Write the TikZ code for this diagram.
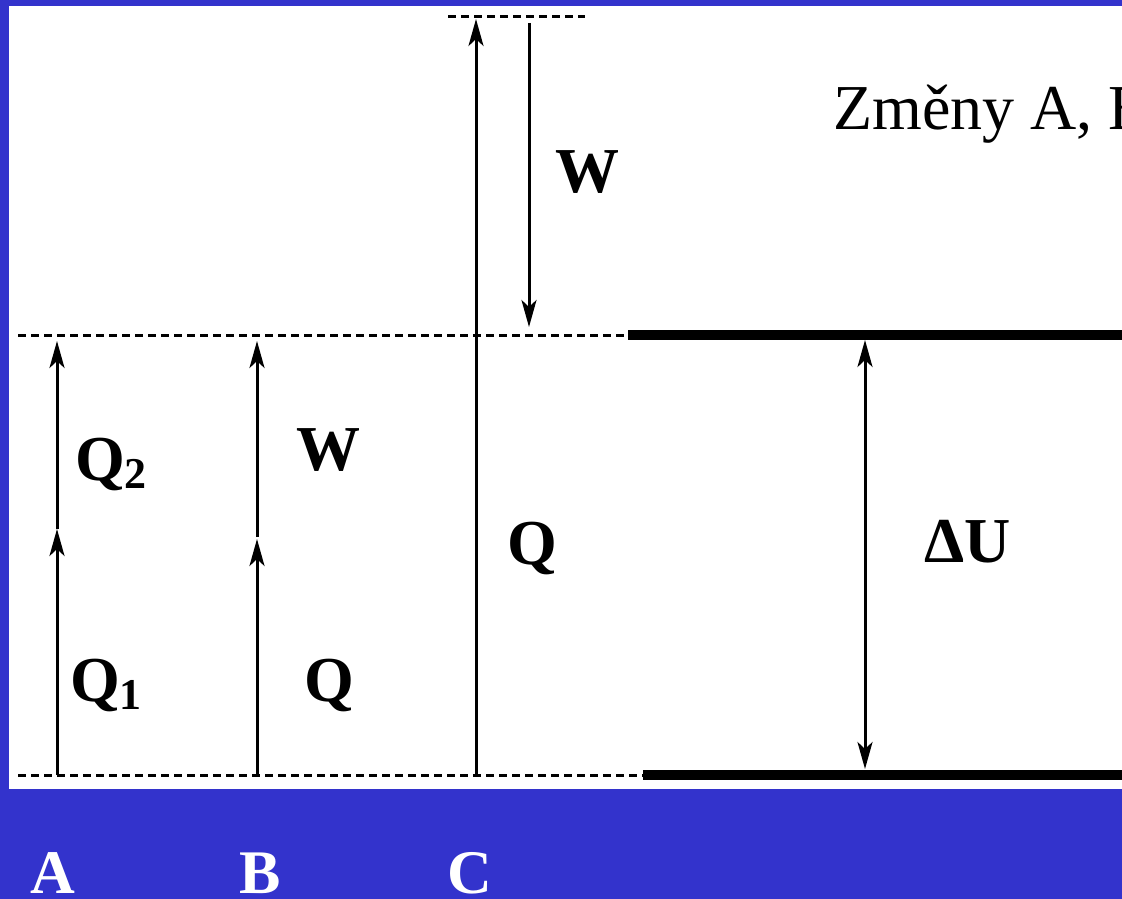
\documentclass[tikz,border=0pt]{standalone}
\usepackage{fontspec}
\setmainfont{Liberation Serif}
\usetikzlibrary{arrows.meta}
\definecolor{bgblue}{RGB}{51,51,204}
\begin{document}
\begin{tikzpicture}[x=1pt,y=-1pt,
  arr/.style={line width=3pt,-{Stealth[length=27pt,width=15pt,inset=7pt]}},
  darr/.style={line width=3pt,{Stealth[length=27pt,width=15pt,inset=7pt]}-{Stealth[length=27pt,width=15pt,inset=7pt]}},
  dline/.style={line width=3pt,dash pattern=on 8pt off 5pt},
  heavy/.style={line width=10pt},
  lbl/.style={font=\fontsize{64}{64}\selectfont\bfseries,anchor=base west,inner sep=0pt},
  foot/.style={font=\fontsize{62}{62}\selectfont\bfseries,text=white,anchor=base west,inner sep=0pt},
  title/.style={font=\fontsize{64}{64}\selectfont,anchor=base west,inner sep=0pt}
]
\useasboundingbox (0,0) rectangle (1122,899);
\fill[bgblue] (0,0) rectangle (1122,899);
\fill[white] (9,6) rectangle (1130,789);

% levels
\coordinate (t0) at (448,17);  \coordinate (t1) at (585,17);
\coordinate (m0) at (18,335);  \coordinate (m1) at (628,335); \coordinate (m2) at (1130,335);
\coordinate (b0) at (18,775);  \coordinate (b1) at (643,775); \coordinate (b2) at (1130,775);
\draw[dline] (t0) -- (t1);
\draw[dline] (m0) -- (m1);
\draw[dline] (b0) -- (b1);
\draw[heavy] (m1) -- (m2);
\draw[heavy] (b1) -- (b2);

% process A
\coordinate (a0) at (57,775); \coordinate (a1) at (57,529); \coordinate (a2) at (57,341);
\draw[arr] (a0) -- (a1);
\draw[arr] (a1) -- (a2);
% process B
\coordinate (p0) at (257,775); \coordinate (p1) at (257,539); \coordinate (p1b) at (257,537); \coordinate (p2) at (257,341);
\draw[arr] (p0) -- (p1);
\draw[arr] (p1b) -- (p2);
% process C
\coordinate (c0) at (476,775); \coordinate (c1) at (476,19);
\draw[arr] (c0) -- (c1);
\coordinate (w0) at (529,23); \coordinate (w1) at (529,327);
\draw[arr] (w0) -- (w1);
% Delta U
\coordinate (u0) at (865,340); \coordinate (u1) at (865,769);
\draw[darr] (u0) -- (u1);

% labels
\node[lbl] (lq2) at (75,480) {Q\raisebox{-0.14em}{\fontsize{44}{44}\selectfont 2}};
\node[lbl] (lq1) at (70,701) {Q\raisebox{-0.14em}{\fontsize{44}{44}\selectfont 1}};
\node[lbl] (lwb) at (296,470) {W};
\node[lbl] (lqb) at (304,701) {Q};
\node[lbl] (lqc) at (507,564) {Q};
\node[lbl] (lwc) at (555,192) {W};
\node[lbl] (ldu) at (924,562) {ΔU};
\node[title] (ttl) at (833,129) {Změny A, B};

\node[foot] (fa) at (30,893) {A};
\node[foot] (fb) at (239,893) {B};
\node[foot] (fc) at (447,893) {C};
\end{tikzpicture}
\end{document}
